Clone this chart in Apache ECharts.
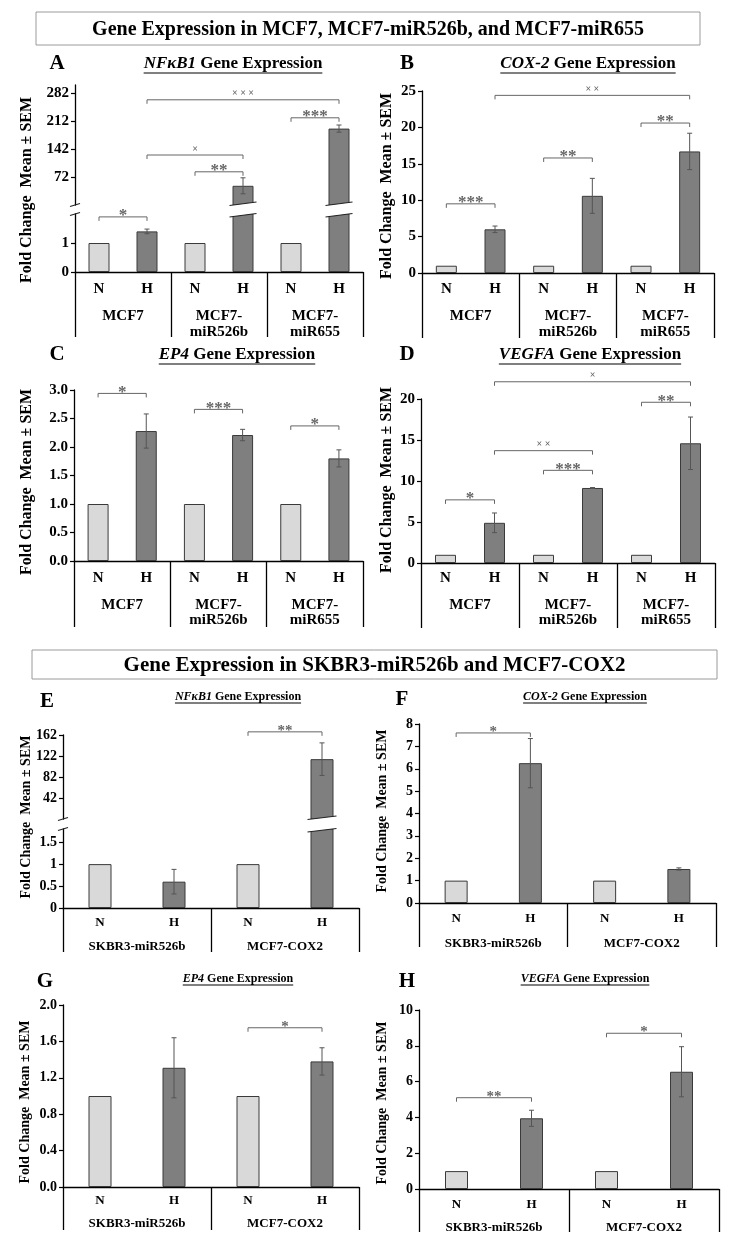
<!DOCTYPE html>
<html>
<head>
<meta charset="utf-8">
<title>Gene Expression</title>
<script src="https://cdn.jsdelivr.net/npm/echarts@6/dist/echarts.min.js"></script>
<style>
html, body { margin: 0; padding: 0; background: #fff; }
#main { width: 733px; height: 1248px; }
</style>
</head>
<body>
<div id="main"></div>
<script>
// categories
var topCats = ['N', 'H', 'N', 'H', 'N', 'H'];
var topGroups = ['MCF7', 'MCF7-\nmiR526b', 'MCF7-\nmiR655'];
var botCats = ['N', 'H', 'N', 'H'];
var botGroups = ['SKBR3-miR526b', 'MCF7-COX2'];

// A - NFκB1 (broken axis)
var aMean = [1, 1.4, 1, 50, 1, 193];
var aSem = [0, 0.08, 0, 20, 0, 9];
var aTicksLow = [0, 1];
var aTicksHigh = [72, 142, 212, 282];
var aSigLow = [[0, 1, 1.9, '*']];
var aSigHigh = [[2, 3, 85, '**'], [1, 3, 127, '×'], [4, 5, 220, '***'], [1, 5, 265, '× × ×']];

// B - COX-2
var bMean = [1, 6.0, 1, 10.6, 1, 16.7];
var bSem = [0, 0.45, 0, 2.4, 0, 2.5];
var bTicks = [0, 5, 10, 15, 20, 25];
var bSig = [[0, 1, 9.5, '***'], [2, 3, 15.8, '**'], [4, 5, 20.6, '**'], [1, 5, 24.4, '× ×']];

// C - EP4
var cMean = [1, 2.28, 1, 2.21, 1, 1.8];
var cSem = [0, 0.3, 0, 0.1, 0, 0.15];
var cTicks = [0, 0.5, 1, 1.5, 2, 2.5, 3];
var cSig = [[0, 1, 2.94, '*'], [2, 3, 2.66, '***'], [4, 5, 2.37, '*']];

// D - VEGFA
var dMean = [1, 4.9, 1, 9.15, 1, 14.6];
var dSem = [0, 1.2, 0, 0.05, 0, 3.2];
var dTicks = [0, 5, 10, 15, 20];
var dSig = [[0, 1, 7.7, '*'], [2, 3, 11.3, '***'], [1, 3, 13.7, '× ×'], [4, 5, 19.6, '**'], [1, 5, 22.1, '×']];

// E - NFκB1 (broken axis)
var eMean = [1, 0.6, 1, 116];
var eSem = [0, 0.28, 0, 31];
var eTicksLow = [0, 0.5, 1, 1.5];
var eTicksHigh = [42, 82, 122, 162];
var eSigHigh = [[2, 3, 168, '**']];

// F - COX-2
var fMean = [1, 6.25, 1, 1.52];
var fSem = [0, 1.1, 0, 0.05];
var fTicks = [0, 1, 2, 3, 4, 5, 6, 7, 8];
var fSig = [[0, 1, 7.6, '*']];

// G - EP4
var gMean = [1, 1.31, 1, 1.38];
var gSem = [0, 0.33, 0, 0.15];
var gTicks = [0, 0.4, 0.8, 1.2, 1.6, 2.0];
var gSig = [[2, 3, 1.75, '*']];

// H - VEGFA
var hMean = [1, 3.95, 1, 6.55];
var hSem = [0, 0.45, 0, 1.4];
var hTicks = [0, 2, 4, 6, 8, 10];
var hSig = [[0, 1, 5.1, '**'], [2, 3, 8.7, '*']];

var SERIF = '"Liberation Serif", "Times New Roman", serif';
var LIGHT = '#d9d9d9', DARK = '#7f7f7f', EDGE = '#3a3a3a', SIGC = '#666';

var option = {
  animation: false,
  backgroundColor: '#fff',
  grid: [], xAxis: [], yAxis: [], series: [], graphic: []
};

function errRender(params, api) {
  var x = api.value(0), m = api.value(1), s = api.value(2);
  var top = api.coord([x, m + s]), bot = api.coord([x, m - s]);
  var cx = top[0], st = { stroke: '#555', lineWidth: 1 };
  return {
    type: 'group', children: [
      { type: 'line', shape: { x1: cx, y1: top[1], x2: cx, y2: bot[1] }, style: st },
      { type: 'line', shape: { x1: cx - 2.5, y1: top[1], x2: cx + 2.5, y2: top[1] }, style: st },
      { type: 'line', shape: { x1: cx - 2.5, y1: bot[1], x2: cx + 2.5, y2: bot[1] }, style: st }
    ]
  };
}

function sigRender(sig, fs) {
  return function (params, api) {
    var s = sig[params.dataIndex];
    var a = api.coord([s[0], s[2]]), b = api.coord([s[1], s[2]]);
    var isX = s[3].indexOf('×') >= 0;
    return {
      type: 'group', children: [
        { type: 'polyline', shape: { points: [[a[0], a[1] + 4], [a[0], a[1]], [b[0], b[1]], [b[0], b[1] + 4]] },
          style: { stroke: SIGC, lineWidth: 1, fill: 'none' } },
        { type: 'text', x: (a[0] + b[0]) / 2, y: a[1] - (isX ? 6 : 1),
          style: { text: s[3], fontFamily: SERIF, fontWeight: 'bold', fontSize: isX ? 10 : fs,
                   fill: SIGC, align: 'center', verticalAlign: 'middle' } }
      ]
    };
  };
}

// slanted break marks where a bar runs through the axis break
function cutRender(side, bw) {
  return function (params, api) {
    var i = api.value(0), v = api.value(1);
    var p = api.coord([i, v]);
    var x0 = p[0] - bw / 2 - 3, x1 = p[0] + bw / 2 + 3, y = p[1];
    var kids = [];
    var ln = { stroke: '#222', lineWidth: 1.2 };
    if (side === 'bottom') {
      kids.push({ type: 'polygon', shape: { points: [[x0, y + 2], [x0, y + 0.5], [x1, y - 3], [x1, y + 2]] }, style: { fill: '#fff' } });
      kids.push({ type: 'line', shape: { x1: x0, y1: y + 0.5, x2: x1, y2: y - 3 }, style: ln });
    } else {
      kids.push({ type: 'polygon', shape: { points: [[x0, y - 2], [x1, y - 2], [x1, y - 0.5], [x0, y + 3]] }, style: { fill: '#fff' } });
      kids.push({ type: 'line', shape: { x1: x0, y1: y + 3, x2: x1, y2: y - 0.5 }, style: ln });
    }
    if (params.dataIndex === 0) {
      var ax = api.coord([0, v])[0] - api.size([1, 0])[0] / 2;
      kids.push({ type: 'line', shape: { x1: ax - 5, y1: y + 1.5, x2: ax + 5, y2: y - 1.5 }, style: ln });
    }
    return { type: 'group', children: kids };
  };
}

function addGrid(p) {
  var gi = option.grid.length, xi = option.xAxis.length, yi = option.yAxis.length;
  var xs = p.xs;
  option.grid.push({ left: p.left, top: p.top, width: p.width, height: p.height });
  option.xAxis.push({
    gridIndex: gi, type: 'category', data: p.cats, position: 'bottom', show: !!xs,
    axisLine: { onZero: false, lineStyle: { color: '#000', width: 1.3 } },
    axisTick: { show: false },
    axisLabel: xs ? { interval: 0, margin: xs.m1, fontFamily: SERIF, fontWeight: 'bold', fontSize: xs.fs, color: '#000' } : { show: false }
  });
  if (xs) {
    option.xAxis.push({
      gridIndex: gi, type: 'category', data: p.groups, position: 'bottom',
      axisLine: { show: false },
      axisTick: { show: true, length: xs.tl, lineStyle: { color: '#000', width: 1.3 } },
      axisLabel: { interval: 0, margin: xs.m2, lineHeight: xs.lh, fontFamily: SERIF, fontWeight: 'bold', fontSize: xs.fs, color: '#000' }
    });
  }
  option.yAxis.push({
    gridIndex: gi, type: 'value', min: p.min, max: p.max,
    splitLine: { show: false },
    axisLine: { show: true, onZero: false, lineStyle: { color: '#000', width: 1.3 } },
    axisTick: { show: true, length: 4, customValues: p.ticks, lineStyle: { color: '#000', width: 1.2 } },
    axisLabel: {
      customValues: p.ticks, margin: 6, fontFamily: SERIF, fontWeight: 'bold', fontSize: p.yfs, color: '#000',
      formatter: function (v) { return p.dec == null ? String(v) : v.toFixed(p.dec); }
    }
  });
  option.series.push({
    type: 'bar', xAxisIndex: xi, yAxisIndex: yi, barWidth: p.bw, clip: true, silent: true,
    data: p.mean.map(function (v) { return v > p.min ? v : '-'; }),
    itemStyle: { color: function (d) { return d.dataIndex % 2 ? DARK : LIGHT; }, borderColor: EDGE, borderWidth: 1 }
  });
  var errData = p.mean.map(function (m, i) { return [i, m, p.sem[i]]; })
    .filter(function (d) { return d[2] > 0 && d[1] >= p.min && d[1] <= p.max; });
  option.series.push({
    type: 'custom', xAxisIndex: xi, yAxisIndex: yi, silent: true, z: 4,
    encode: { x: 0, y: 1 }, data: errData, renderItem: errRender
  });
  if (p.sig) {
    option.series.push({
      type: 'custom', xAxisIndex: xi, yAxisIndex: yi, silent: true, z: 5,
      encode: { x: [0, 2], y: 1 },
      data: p.sig.map(function (s) { return [s[0], s[2], s[1]]; }),
      renderItem: sigRender(p.sig, p.sfs || 17)
    });
  }
  if (p.cut) {
    var edge = p.cut === 'bottom' ? p.min : p.max;
    var cutData = [];
    p.mean.forEach(function (m, i) { if (m > edge) cutData.push([i, edge]); });
    option.series.push({
      type: 'custom', xAxisIndex: xi, yAxisIndex: yi, silent: true, z: 6,
      encode: { x: 0, y: 1 }, data: cutData, renderItem: cutRender(p.cut, p.bw)
    });
  }
}

// panels A-D
addGrid({ left: 75, width: 288, top: 85, height: 120, min: 2, max: 302, ticks: aTicksHigh, cats: topCats,
  mean: aMean, sem: aSem, sig: aSigHigh, cut: 'bottom', bw: 21, yfs: 15 });
addGrid({ left: 75, width: 288, top: 214, height: 58, min: 0, max: 2, ticks: aTicksLow, cats: topCats, groups: topGroups,
  xs: { fs: 15, m1: 10, m2: 36, lh: 16, tl: 65 }, mean: aMean, sem: aSem, sig: aSigLow, cut: 'top', bw: 21, yfs: 15 });
addGrid({ left: 422, width: 292, top: 91, height: 182, min: 0, max: 25, ticks: bTicks, cats: topCats, groups: topGroups,
  xs: { fs: 15, m1: 9, m2: 35, lh: 16, tl: 65 }, mean: bMean, sem: bSem, sig: bSig, bw: 21, yfs: 15 });
addGrid({ left: 74, width: 289, top: 390, height: 171, min: 0, max: 3, ticks: cTicks, dec: 1, cats: topCats, groups: topGroups,
  xs: { fs: 15, m1: 10, m2: 37, lh: 15, tl: 66 }, mean: cMean, sem: cSem, sig: cSig, bw: 21, yfs: 15 });
addGrid({ left: 421, width: 294, top: 399, height: 164, min: 0, max: 20, ticks: dTicks, cats: topCats, groups: topGroups,
  xs: { fs: 15, m1: 8, m2: 35, lh: 15, tl: 65 }, mean: dMean, sem: dSem, sig: dSig, bw: 21, yfs: 15 });

// panels E-H
addGrid({ left: 63, width: 296, top: 735, height: 84, min: 2, max: 162, ticks: eTicksHigh, cats: botCats,
  mean: eMean, sem: eSem, sig: eSigHigh, cut: 'bottom', bw: 23, yfs: 14, sfs: 15 });
addGrid({ left: 63, width: 296, top: 829, height: 79, min: 0, max: 1.8, ticks: eTicksLow, cats: botCats, groups: botGroups,
  xs: { fs: 13, m1: 8, m2: 31, lh: 15, tl: 44 }, mean: eMean, sem: eSem, cut: 'top', bw: 23, yfs: 14 });
addGrid({ left: 419, width: 297, top: 724, height: 179, min: 0, max: 8, ticks: fTicks, cats: botCats, groups: botGroups,
  xs: { fs: 13, m1: 9, m2: 33, lh: 15, tl: 44 }, mean: fMean, sem: fSem, sig: fSig, bw: 23, yfs: 14, sfs: 15 });
addGrid({ left: 63, width: 296, top: 1005, height: 182, min: 0, max: 2, ticks: gTicks, dec: 1, cats: botCats, groups: botGroups,
  xs: { fs: 13, m1: 7, m2: 29, lh: 15, tl: 43 }, mean: gMean, sem: gSem, sig: gSig, bw: 23, yfs: 14, sfs: 15 });
addGrid({ left: 419, width: 300, top: 1010, height: 179, min: 0, max: 10, ticks: hTicks, cats: botCats, groups: botGroups,
  xs: { fs: 13, m1: 9, m2: 31, lh: 15, tl: 43 }, mean: hMean, sem: hSem, sig: hSig, bw: 23, yfs: 14, sfs: 15 });

// headers, letters, titles, axis names
var ctx = document.createElement('canvas').getContext('2d');
function header(x, y, w, h, fs, text) {
  option.graphic.push({ type: 'rect', shape: { x: x, y: y, width: w, height: h }, style: { fill: '#fff', stroke: '#9a9a9a', lineWidth: 1 } });
  option.graphic.push({ type: 'text', x: x + w / 2, y: y + h / 2 + 1,
    style: { text: text, fontFamily: SERIF, fontWeight: 'bold', fontSize: fs, fill: '#000', align: 'center', verticalAlign: 'middle' } });
}
header(36, 12, 664, 33, 20, 'Gene Expression in MCF7, MCF7-miR526b, and MCF7-miR655');
header(32, 650, 685, 29, 21, 'Gene Expression in SKBR3-miR526b and MCF7-COX2');

var panels = [
  { ch: 'A', lx: 57, ly: 64, gene: 'NFκB1', tx: 233, ty: 64, tfs: 17, nx: 27, ny: 190, nfs: 16 },
  { ch: 'B', lx: 407, ly: 64, gene: 'COX-2', tx: 588, ty: 64, tfs: 17, nx: 387, ny: 186, nfs: 16 },
  { ch: 'C', lx: 57, ly: 355, gene: 'EP4', tx: 237, ty: 355, tfs: 17, nx: 27, ny: 482, nfs: 16 },
  { ch: 'D', lx: 407, ly: 355, gene: 'VEGFA', tx: 590, ty: 355, tfs: 17, nx: 387, ny: 480, nfs: 16 },
  { ch: 'E', lx: 47, ly: 702, gene: 'NFκB1', tx: 238, ty: 697, tfs: 12, nx: 26, ny: 817, nfs: 14 },
  { ch: 'F', lx: 402, ly: 700, gene: 'COX-2', tx: 585, ty: 697, tfs: 12, nx: 382, ny: 811, nfs: 14 },
  { ch: 'G', lx: 45, ly: 982, gene: 'EP4', tx: 238, ty: 979, tfs: 12, nx: 25, ny: 1102, nfs: 14 },
  { ch: 'H', lx: 407, ly: 982, gene: 'VEGFA', tx: 585, ty: 979, tfs: 12, nx: 382, ny: 1103, nfs: 14 }
];

panels.forEach(function (p) {
  option.graphic.push({ type: 'text', x: p.lx, y: p.ly,
    style: { text: p.ch, fontFamily: SERIF, fontWeight: 'bold', fontSize: 21, fill: '#000', align: 'center', verticalAlign: 'middle' } });
  ctx.font = 'italic bold ' + p.tfs + 'px "Liberation Serif"';
  var w = ctx.measureText(p.gene).width;
  ctx.font = 'bold ' + p.tfs + 'px "Liberation Serif"';
  w += ctx.measureText(' Gene Expression').width;
  option.graphic.push({ type: 'text', x: p.tx, y: p.ty,
    style: {
      text: '{g|' + p.gene + '}{n| Gene Expression}', align: 'center', verticalAlign: 'middle',
      rich: {
        g: { fontStyle: 'italic', fontWeight: 'bold', fontSize: p.tfs, fontFamily: SERIF, fill: '#000' },
        n: { fontWeight: 'bold', fontSize: p.tfs, fontFamily: SERIF, fill: '#000' }
      }
    } });
  var uy = p.ty + Math.round(p.tfs * 0.5);
  option.graphic.push({ type: 'line', shape: { x1: p.tx - w / 2, y1: uy, x2: p.tx + w / 2, y2: uy }, style: { stroke: '#000', lineWidth: 1 } });
  option.graphic.push({ type: 'text', x: p.nx, y: p.ny, rotation: Math.PI / 2,
    style: { text: 'Fold Change  Mean ± SEM', fontFamily: SERIF, fontWeight: 'bold', fontSize: p.nfs, fill: '#000', align: 'center', verticalAlign: 'middle' } });
});

var myChart = echarts.init(document.getElementById('main'));
myChart.setOption(option);
</script>
</body>
</html>
